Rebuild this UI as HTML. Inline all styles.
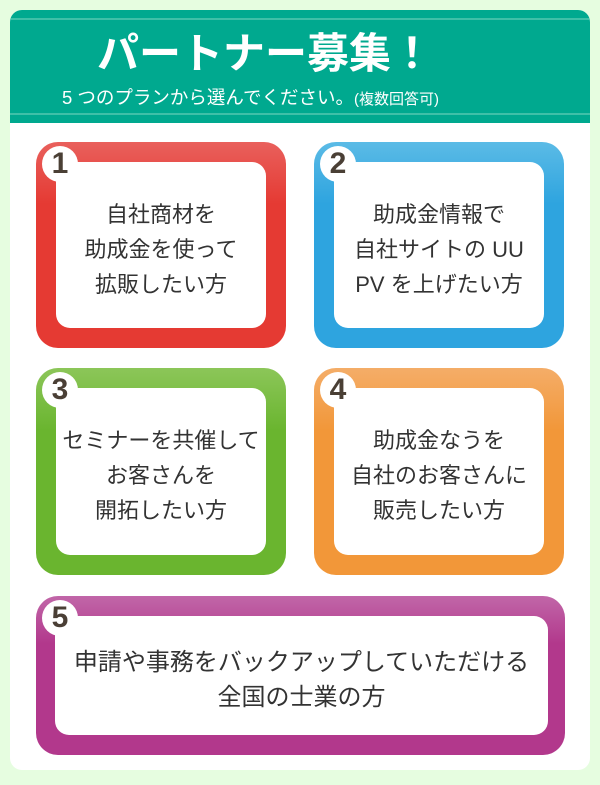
<!DOCTYPE html>
<html><head><meta charset="utf-8"><style>
*{margin:0;padding:0;box-sizing:border-box}
body{width:600px;height:785px;background:#e6fde0;position:relative;font-family:"Liberation Sans","Noto Sans CJK JP",sans-serif;overflow:hidden}
.card{position:absolute;left:10px;top:10px;width:580px;height:760px;background:#fff;border-radius:12px;overflow:hidden}
.head{position:absolute;left:0;top:0;width:580px;height:113px;background:#00a98f}
.l1{position:absolute;left:0;top:8px;width:580px;height:2px;background:#3fc0a8}
.l2{position:absolute;left:0;top:103px;width:580px;height:2px;background:#3fc0a8}
.t1{position:absolute;left:87px;top:16px;white-space:nowrap;color:#fff;font-size:42px;font-weight:bold;line-height:56px}
.t2{position:absolute;left:52px;top:76px;white-space:nowrap;color:#fff;font-size:18.5px;line-height:24px}
.t2 small{font-size:15px}
.box{position:absolute;border-radius:22px}
.in{position:absolute;left:20px;top:20px;right:20px;bottom:20px;background:#fff;border-radius:14px;display:flex;align-items:center;justify-content:center;text-align:center;color:#333;font-size:22px;line-height:35px;padding-top:8px}
.num{position:absolute;left:6px;top:4px;width:36px;height:36px;border-radius:50%;background:#fff;color:#4a3f35;font-weight:bold;font-size:30px;line-height:36px;text-align:center;font-family:"Liberation Sans",sans-serif}
</style></head><body>
<div class="card">
<div class="head"><div class="l1"></div><div class="l2"></div>
<div class="t1">パートナー募集！</div>
<div class="t2">5 つのプランから選んでください。<small>(複数回答可)</small></div></div>
</div>
<div class="box" style="left:36px;top:142px;width:250px;height:206px;background:linear-gradient(#e9605c,#e53a33 30%)"><div class="in">自社商材を<br>助成金を使って<br>拡販したい方</div><div class="num">1</div></div>
<div class="box" style="left:314px;top:142px;width:250px;height:206px;background:linear-gradient(#5bbbe6,#2ea4df 30%)"><div class="in">助成金情報で<br>自社サイトの UU<br>PV を上げたい方</div><div class="num">2</div></div>
<div class="box" style="left:36px;top:368px;width:250px;height:207px;background:linear-gradient(#8cc659,#6ab52f 30%)"><div class="in">セミナーを共催して<br>お客さんを<br>開拓したい方</div><div class="num">3</div></div>
<div class="box" style="left:314px;top:368px;width:250px;height:207px;background:linear-gradient(#f4ad68,#f29739 30%)"><div class="in">助成金なうを<br>自社のお客さんに<br>販売したい方</div><div class="num">4</div></div>
<div class="box" style="left:36px;top:596px;width:529px;height:159px;background:linear-gradient(#c166a8,#b2388c 30%)"><div class="in" style="left:19px;right:17px;font-size:24px">申請や事務をバックアップしていただける<br>全国の士業の方</div><div class="num">5</div></div>
</body></html>
